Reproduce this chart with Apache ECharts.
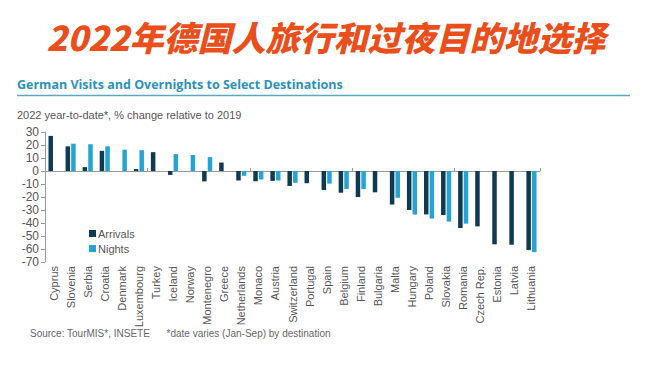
<!DOCTYPE html>
<html><head><meta charset="utf-8">
<script src="https://cdn.jsdelivr.net/npm/echarts@6/dist/echarts.min.js"></script>
<style>html,body{margin:0;padding:0;background:#fff}#c{width:652px;height:379px}</style>
</head><body><div id="c"></div>
<script>
const categories = ["Cyprus","Slovenia","Serbia","Croatia","Denmark","Luxembourg","Turkey","Iceland","Norway","Montenegro","Greece","Netherlands","Monaco","Austria","Switzerland","Portugal","Spain","Belgium","Finland","Bulgaria","Malta","Hungary","Poland","Slovakia","Romania","Czech Rep.","Estonia","Latvia","Lithuania"];
const arrivals = [27,19,3,15.5,null,1.5,14.5,-3,null,-8,6.5,-7.3,-7.8,-7.6,-11.5,-9.4,-14.6,-16.7,-20,-16.4,-25.8,-30,-33.4,-33.9,-43.9,-42.6,-56.4,-56.7,-60.8];
const nights = [null,21,20.6,19,16.4,16,null,13,12.3,10.7,null,-3.7,-6.5,-7.3,-9.1,null,-9.7,-13.8,-13.8,null,-20.6,-33.5,-36.6,-38.9,-40.5,null,null,null,-62.4];
const yTicks = {min:-70, max:30, interval:10};

const H = 379, gridTop = 132, gridBottom = 117;
const plotH = H - gridTop - gridBottom;
const zeroOffset = -plotH * (yTicks.max - 0) / (yTicks.max - yTicks.min);

const chart = echarts.init(document.getElementById('c'), null, {renderer:'svg'});
chart.setOption({
  backgroundColor:'#fff',
  animation:false,
  title:[
    {text:'2022年德国人旅行和过夜目的地选择', left:'center', top:19, padding:0,
     textStyle:{fontFamily:'Noto Sans CJK SC', fontSize:34, fontWeight:900, fontStyle:'italic', color:'#ea4e1b'}},
    {text:'German Visits and Overnights to Select Destinations', left:17, top:78, padding:0,
     textStyle:{fontFamily:'Open Sans', fontSize:12.5, fontWeight:'bold', color:'#2b92b8'}},
    {text:'2022 year-to-date*, % change relative to 2019', left:17, top:109, padding:0,
     textStyle:{fontFamily:'Liberation Sans', fontSize:11, fontWeight:'normal', color:'#555'}},
    {text:'Source: TourMIS*, INSETE      *date varies (Jan-Sep) by destination', left:30, top:328, padding:0,
     textStyle:{fontFamily:'Liberation Sans', fontSize:10, fontWeight:'normal', color:'#666'}}
  ],
  graphic:[
    {type:'line', shape:{x1:17,y1:95.5,x2:630,y2:95.5}, style:{stroke:'#5aa8c0', lineWidth:1.5}}
  ],
  legend:{orient:'vertical', left:84, top:223, itemWidth:7, itemHeight:7, itemGap:4, icon:'rect',
    textStyle:{fontFamily:'Liberation Sans', fontSize:11, color:'#555', padding:[0,0,0,-3]},
    data:['Arrivals','Nights']},
  grid:{left:45, right:112, top:gridTop, bottom:gridBottom, containLabel:false},
  xAxis:[
    {type:'category', data:categories, position:'bottom',
     axisLine:{show:false, onZero:false}, axisTick:{show:false},
     axisLabel:{rotate:90, interval:0, margin:4, fontFamily:'Liberation Sans', fontSize:11, color:'#555'}},
    {type:'category', data:categories, position:'top', offset:zeroOffset,
     axisLine:{show:true, onZero:false, lineStyle:{color:'#999', width:1}},
     axisTick:{show:true, inside:false, length:3, lineStyle:{color:'#999'}},
     axisLabel:{show:false}}
  ],
  yAxis:{type:'value', min:yTicks.min, max:yTicks.max, interval:yTicks.interval,
    splitLine:{show:false},
    axisLine:{show:true, onZero:false, lineStyle:{color:'#999'}},
    axisTick:{show:true, length:4, lineStyle:{color:'#999'}},
    axisLabel:{fontFamily:'Liberation Sans', fontSize:12, color:'#555', margin:6}},
  series:[
    {name:'Arrivals', type:'bar', xAxisIndex:0, data:arrivals, barWidth:4.5, barGap:'25%', barCategoryGap:'40%',
     itemStyle:{color:'#0e3b52'}},
    {name:'Nights', type:'bar', xAxisIndex:0, data:nights, barWidth:4.5, barGap:'25%',
     itemStyle:{color:'#25a3d3'}}
  ]
});
</script></body></html>
